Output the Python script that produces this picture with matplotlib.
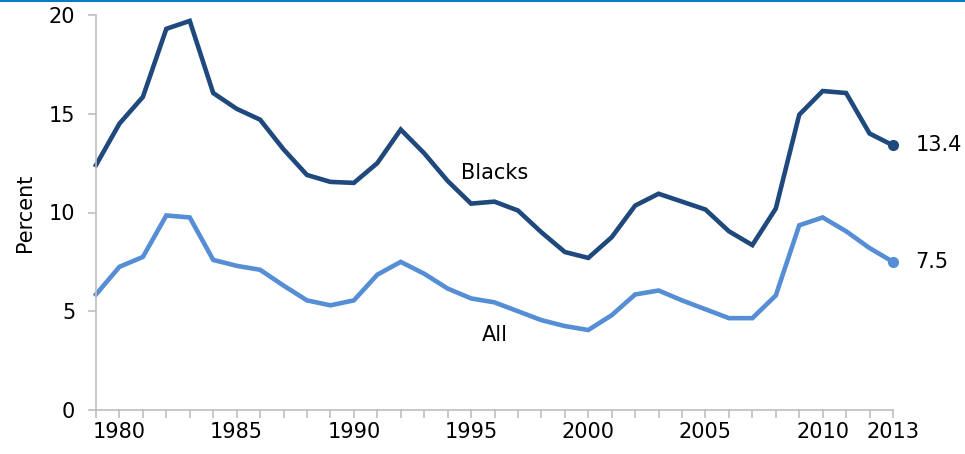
import numpy as np
import matplotlib.pyplot as plt
from matplotlib.lines import Line2D

# Data
years = list(range(1979, 2014))
blacks = [12.4, 14.5, 15.85, 19.3, 19.7, 16.05, 15.25, 14.7, 13.2, 11.9,
          11.55, 11.5, 12.5, 14.2, 13.0, 11.6, 10.45, 10.55, 10.1, 9.0,
          8.0, 7.7, 8.75, 10.35, 10.95, 10.55, 10.15, 9.05, 8.35, 10.2,
          14.95, 16.15, 16.05, 14.0, 13.4]
all_workers = [5.85, 7.25, 7.75, 9.85, 9.75, 7.6, 7.3, 7.1, 6.3, 5.55,
               5.3, 5.55, 6.85, 7.5, 6.9, 6.15, 5.65, 5.45, 5.0, 4.55,
               4.25, 4.05, 4.8, 5.85, 6.05, 5.55, 5.1, 4.65, 4.65, 5.8,
               9.35, 9.75, 9.05, 8.2, 7.5]
tick_label_years = [1980, 1985, 1990, 1995, 2000, 2005, 2010, 2013]
end_labels = ["13.4", "7.5"]

DARK = "#1f497d"
LIGHT = "#558ed5"
GRID = "#bfbfbf"
FS = 15

plt.rcParams['font.family'] = ['DejaVu Sans']

fig = plt.figure(figsize=(9.65, 4.54), dpi=100)
ax = fig.add_axes([96 / 965, 44 / 454, (893 - 96) / 965, (410 - 15) / 454])

ax.plot(years, blacks, color=DARK, lw=3.3, solid_joinstyle='miter', clip_on=False)
ax.plot(years, all_workers, color=LIGHT, lw=3.3, solid_joinstyle='miter', clip_on=False)
ax.plot(years[-1], blacks[-1], 'o', color=DARK, ms=7, clip_on=False)
ax.plot(years[-1], all_workers[-1], 'o', color=LIGHT, ms=7, clip_on=False)

ax.text(years[-1] + 0.95, blacks[-1], end_labels[0], fontsize=FS, va='center', ha='left')
ax.text(years[-1] + 0.95, all_workers[-1], end_labels[1], fontsize=FS, va='center', ha='left')
ax.text(1996.0, 12.0, "Blacks", fontsize=FS, ha='center', va='center')
ax.text(1996.0, 3.8, "All", fontsize=FS, ha='center', va='center')

ax.set_xlim(1979, 2013)
ax.set_ylim(0, 20)
ax.set_yticks([0, 5, 10, 15, 20])
ax.set_xticks(years)
ax.set_xticklabels([str(y) if y in tick_label_years else "" for y in years])
ax.tick_params(axis='both', labelsize=FS, color=GRID, length=6, width=1.2)
ax.tick_params(axis='x', pad=3)
ax.tick_params(axis='y', pad=9)

for side in ['top', 'right']:
    ax.spines[side].set_visible(False)
for side in ['left', 'bottom']:
    ax.spines[side].set_color(GRID)
    ax.spines[side].set_linewidth(1.2)

ax.set_ylabel("Percent", fontsize=FS, labelpad=10)

# thin blue border line at top of figure
fig.add_artist(Line2D([0, 1], [0.998, 0.998], transform=fig.transFigure,
                      color="#0a7bc4", lw=1.5))

fig.savefig("out.png", dpi=100)
